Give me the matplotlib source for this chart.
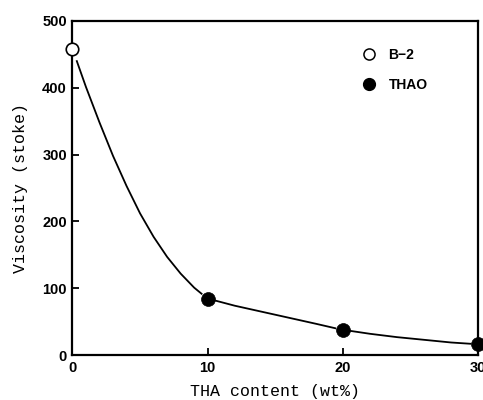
import matplotlib
matplotlib.use("Agg")
import matplotlib.pyplot as plt
from matplotlib.lines import Line2D

# data
b2_x = [0]
b2_y = [458]
thao_x = [10, 20, 30]
thao_y = [84, 38, 16]
curve_x = [0.3, 1, 2, 3, 4, 5, 6, 7, 8, 9, 9.6, 10.5, 12, 14, 16, 18, 19.5, 20.5, 22, 24, 26, 28, 29.5]
curve_y = [441, 401, 348, 298, 253, 212, 177, 147, 122, 101, 91, 82, 74, 65, 56, 47, 40, 36.5, 32, 27, 23, 19, 17]
x_ticks = [0, 10, 20, 30]
y_ticks = [0, 100, 200, 300, 400, 500]

fig = plt.figure(figsize=(4.83, 4.0), dpi=100)
ax = fig.add_axes([0.150, 0.112, 0.840, 0.836])

# curve with gaps around the markers
segs = [(0, 11), (11, 17), (17, len(curve_x))]
for a, b in segs:
    ax.plot(curve_x[a:b], curve_y[a:b], color='black', lw=1.3, solid_capstyle='butt')

ax.plot(b2_x, b2_y, 'o', ms=9, mfc='white', mec='black', mew=1.2, clip_on=False, zorder=5)
ax.plot(thao_x, thao_y, 'o', ms=10, mfc='black', mec='black', mew=0.5, clip_on=False, zorder=5)

ax.set_xlim(0, 30)
ax.set_ylim(0, 500)
ax.set_xticks(x_ticks)
ax.set_yticks(y_ticks)
ax.set_xticklabels([str(t) for t in x_ticks], fontweight='bold', fontsize=10.5, family='Liberation Sans')
ax.set_yticklabels([str(t) for t in y_ticks], fontweight='bold', fontsize=10.5, family='Liberation Sans')
ax.tick_params(direction='in', length=5, width=1.3, pad=4)
for s in ax.spines.values():
    s.set_linewidth(1.6)

ax.set_xlabel('THA content (wt%)', family='Liberation Mono', fontsize=12, labelpad=7)
ax.set_ylabel('Viscosity (stoke)', family='Liberation Mono', fontsize=12, labelpad=10)

handles = [Line2D([], [], ls='none', marker='o', ms=8, mfc='white', mec='black', mew=1.1),
           Line2D([], [], ls='none', marker='o', ms=8.5, mfc='black', mec='black')]
leg = ax.legend(handles, ['B\u22122', 'THAO'], loc='upper left', bbox_to_anchor=(0.68, 0.955),
                frameon=False, prop={'family': 'Liberation Sans', 'weight': 'bold', 'size': 10},
                labelspacing=1.1, handletextpad=0.8, handlelength=1.2)

fig.savefig('out.png', dpi=100)
